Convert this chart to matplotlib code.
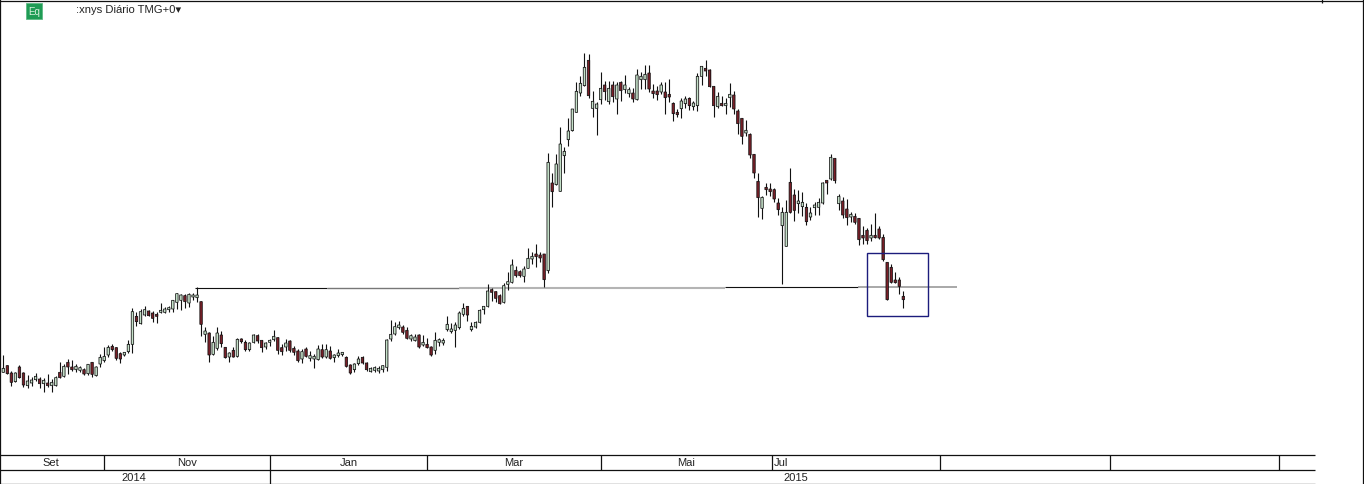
import numpy as np
import matplotlib
matplotlib.use("Agg")
import matplotlib.pyplot as plt
from matplotlib.patches import Rectangle

plt.rcParams['font.family'] = ['Liberation Sans', 'DejaVu Sans']

# price units are arbitrary, the screenshot has no price axis
highs = [
    297, 267, 250, 247, 267, 247, 237, 230, 243, 230,
    227, 240, 225, 235, 275, 270, 285, 283, 270, 263,
    257, 270, 277, 265, 299, 320, 327, 329, 321, 305,
    307, 343, 437, 427, 435, 443, 433, 430, 425, 453,
    440, 443, 463, 483, 480, 480, 483, 483, 500, 459,
    380, 365, 355, 380, 370, 320, 307, 320, 347, 349,
    343, 335, 360, 360, 343, 337, 345, 371, 350, 330,
    345, 341, 325, 315, 315, 320, 310, 300, 327, 330,
    330, 323, 300, 315, 307, 295, 270, 273, 293, 295,
    277, 260, 263, 263, 267, 345, 402, 395, 400, 387,
    380, 360, 360, 360, 357, 347, 323, 367, 347, 347,
    413, 393, 395, 430, 453, 445, 397, 400, 435, 445,
    510, 497, 489, 480, 513, 545, 585, 563, 553, 565,
    617, 607, 630, 605, 600, 903, 843, 900, 980, 922,
    1008, 1035, 1115, 1135, 1203, 1200, 1090, 1055, 1145, 1120,
    1120, 1118, 1115, 1118, 1137, 1100, 1097, 1155, 1147, 1167,
    1167, 1110, 1103, 1117, 1117, 1125, 1057, 1035, 1067, 1075,
    1070, 1060, 1143, 1165, 1182, 1155, 1105, 1087, 1073, 1067,
    1113, 1090, 1035, 1008, 1002, 963, 899, 843, 775, 813,
    813, 797, 767, 740, 762, 858, 795, 792, 787, 753,
    740, 755, 767, 815, 823, 900, 888, 780, 770, 765,
    725, 723, 709, 683, 677, 690, 723, 683, 660, 575,
    570, 545, 531, 489,
]
lows = [
    245, 240, 205, 215, 229, 200, 197, 205, 220, 197,
    187, 200, 187, 205, 227, 230, 240, 250, 247, 247,
    237, 237, 230, 233, 260, 277, 290, 310, 283, 273,
    293, 303, 303, 385, 390, 413, 413, 397, 393, 423,
    423, 427, 427, 435, 433, 437, 440, 463, 457, 353,
    335, 277, 297, 313, 320, 287, 277, 290, 290, 333,
    310, 310, 333, 333, 307, 315, 323, 339, 300, 297,
    310, 305, 297, 277, 273, 290, 280, 257, 283, 287,
    289, 285, 275, 290, 295, 260, 240, 245, 267, 270,
    250, 245, 247, 243, 247, 250, 340, 357, 375, 360,
    345, 340, 340, 317, 325, 317, 293, 300, 323, 327,
    370, 363, 320, 375, 415, 400, 370, 377, 393, 420,
    440, 460, 455, 450, 453, 493, 513, 530, 530, 517,
    557, 570, 562, 577, 500, 543, 740, 807, 788, 843,
    925, 970, 1025, 1073, 1103, 1069, 1012, 958, 1049, 1062,
    1050, 1055, 1021, 1060, 1083, 1070, 1055, 1063, 1095, 1095,
    1087, 1067, 1063, 1080, 1021, 1055, 1000, 1010, 1008, 1037,
    1033, 1033, 1029, 1107, 1135, 1100, 1011, 1039, 1045, 1020,
    1040, 1020, 960, 930, 953, 887, 827, 711, 705, 777,
    773, 757, 717, 510, 623, 723, 700, 723, 715, 687,
    702, 717, 717, 750, 780, 823, 813, 733, 709, 687,
    695, 689, 628, 630, 630, 640, 649, 645, 580, 463,
    513, 513, 481, 438,
]
opens = [
    245, 265, 243, 217, 261, 243, 205, 213, 223, 225,
    211, 213, 205, 205, 245, 233, 275, 261, 253, 251,
    253, 241, 275, 235, 270, 280, 297, 323, 319, 301,
    297, 307, 329, 413, 391, 417, 429, 423, 419, 425,
    425, 433, 435, 455, 461, 475, 453, 471, 469, 457,
    359, 363, 299, 317, 357, 320, 291, 311, 293, 345,
    335, 313, 335, 355, 341, 321, 335, 343, 349, 319,
    321, 339, 317, 309, 285, 315, 287, 285, 283, 313,
    291, 309, 289, 295, 298, 290, 267, 253, 271, 290,
    273, 247, 251, 249, 253, 260, 345, 360, 379, 381,
    371, 345, 340, 357, 327, 329, 321, 311, 335, 333,
    373, 367, 371, 379, 419, 443, 373, 381, 395, 433,
    443, 493, 487, 475, 455, 509, 515, 551, 547, 533,
    557, 585, 600, 597, 600, 550, 813, 808, 788, 895,
    943, 970, 1025, 1083, 1105, 1181, 1037, 1037, 1063, 1107,
    1057, 1107, 1065, 1115, 1093, 1081, 1083, 1063, 1123, 1123,
    1143, 1089, 1089, 1086, 1086, 1079, 1052, 1025, 1036, 1051,
    1067, 1042, 1045, 1133, 1157, 1152, 1103, 1042, 1052, 1045,
    1069, 1077, 1029, 1007, 963, 959, 899, 818, 737, 800,
    795, 793, 753, 685, 623, 815, 777, 751, 742, 740,
    711, 739, 740, 753, 821, 825, 887, 751, 759, 735,
    711, 713, 707, 656, 671, 648, 656, 675, 650, 575,
    560, 522, 522, 473,
]
closes = [
    257, 241, 215, 243, 229, 207, 219, 222, 233, 211,
    221, 205, 215, 229, 229, 263, 261, 253, 263, 259,
    240, 269, 239, 261, 290, 293, 320, 313, 287, 285,
    305, 329, 427, 397, 427, 433, 415, 407, 413, 431,
    435, 439, 461, 481, 477, 457, 479, 477, 477, 389,
    369, 297, 335, 363, 331, 289, 303, 291, 344, 337,
    313, 333, 357, 339, 319, 333, 341, 353, 311, 307,
    333, 311, 305, 280, 307, 293, 295, 293, 315, 291,
    313, 287, 297, 303, 305, 263, 243, 270, 285, 273,
    253, 257, 259, 257, 265, 342, 359, 382, 387, 365,
    347, 355, 351, 321, 335, 319, 297, 341, 343, 341,
    389, 375, 387, 423, 437, 417, 383, 395, 431, 443,
    489, 485, 467, 451, 505, 517, 567, 535, 535, 555,
    587, 593, 592, 588, 523, 875, 787, 870, 930, 908,
    969, 1035, 1088, 1112, 1160, 1075, 1058, 1050, 1097, 1087,
    1097, 1072, 1107, 1090, 1107, 1093, 1065, 1137, 1133, 1139,
    1095, 1081, 1078, 1107, 1069, 1071, 1021, 1018, 1059, 1065,
    1045, 1053, 1133, 1163, 1149, 1102, 1045, 1073, 1045, 1052,
    1079, 1035, 991, 953, 971, 897, 843, 769, 770, 793,
    787, 765, 733, 725, 725, 725, 731, 759, 755, 697,
    723, 747, 755, 813, 813, 890, 820, 773, 717, 709,
    719, 695, 643, 648, 640, 656, 649, 648, 583, 463,
    515, 514, 503, 463,
]

# horizontal level drawn on the chart, split where the shade changes
level_bars = [47.5, 80.2, 113.0, 178.8, 211.8, 236.3]
level_price = [499, 499, 499, 502, 500]
level_colors = ['#111111', '#777777', '#b4b4b4', '#111111', '#9a9a9a']
level_widths = [0.8, 1.0, 1.5, 0.8, 1.2]

# box around the last candles
box_bars = [214.0, 229.2]
box_prices = [414, 602]

month_labels = ['Set', 'Nov', 'Jan', 'Mar', 'Mai', 'Jul']
month_label_x = [51, 187, 349, 514, 686, 781]
month_edges = [104, 270, 427, 601, 772, 940, 1110, 1279]
year_labels = ['2014', '2015']
year_label_x = [134, 796]
year_edges = [270]

W, H = 1364, 485
UP = '#c4e0c8'
DOWN = '#7a1f28'
EDGE = '#111111'

fig = plt.figure(figsize=(W / 100, H / 100), dpi=100)
fig.patch.set_facecolor('white')

# chart area, 4.036 px per bar, 1/3 px per price unit
ax = fig.add_axes([0, 30 / H, 1, 455 / H])
ax.set_xlim(-3.3 / 4.036, (W - 3.3) / 4.036)
ax.set_ylim(0, 1365)
ax.axis('off')

x = np.arange(len(highs))
o = np.array(opens)
c = np.array(closes)
rising = c > o
ax.vlines(x, lows, highs, color=EDGE, lw=0.8, zorder=2)
bodies = ax.bar(x, np.abs(c - o), bottom=np.minimum(o, c), width=0.6,
                color=[UP if r else DOWN for r in rising], edgecolor=EDGE, lw=0.55, zorder=3)
for body in bodies:
    body.set_snap(False)

for i in range(len(level_price)):
    ax.plot(level_bars[i:i + 2], [level_price[i]] * 2, color=level_colors[i],
            lw=level_widths[i], solid_capstyle='butt', zorder=1)

ax.add_patch(Rectangle((box_bars[0], box_prices[0]), box_bars[1] - box_bars[0],
                       box_prices[1] - box_prices[0], fill=False,
                       edgecolor='#1c1c7c', lw=1.0, zorder=4))

# frame, header and the date rows, in screen pixels
frame = fig.add_axes([0, 0, 1, 1], facecolor='none')
frame.set_xlim(0, W)
frame.set_ylim(H, 0)
frame.axis('off')

line = dict(color='#111111', lw=0.9, solid_capstyle='butt')
frame.plot([0.1, 0.1], [0, H], **line)
frame.plot([0, W], [1.5, 1.5], **line)
frame.plot([W - 1.5, W - 1.5], [0, H], **line)
frame.plot([1322, 1322], [0, 4], **line)
for y in [455.5, 470.5, 484.5]:
    frame.plot([0, 1315], [y, y], **line)
for ex in month_edges:
    frame.plot([ex, ex], [455.5, 470.5], **line)
for ex in year_edges:
    frame.plot([ex, ex], [470.5, 484.5], **line)

for lab, lx in zip(month_labels, month_label_x):
    frame.text(lx, 463.5, lab, ha='center', va='center', fontsize=8, color='#222222')
for lab, lx in zip(year_labels, year_label_x):
    frame.text(lx, 478.5, lab, ha='center', va='center', fontsize=8, color='#222222')

frame.add_patch(Rectangle((26, 4), 16, 16, facecolor='#1f9c55', edgecolor='#5dbb85', lw=0.6))
frame.text(34, 12, 'Eq', ha='center', va='center', fontsize=7, color='#d8f0dc')
frame.text(76, 10, ':xnys Diário TMG+0\u25be', ha='left', va='center', fontsize=8.1, color='#222222')

fig.savefig('out.png', dpi=100)
